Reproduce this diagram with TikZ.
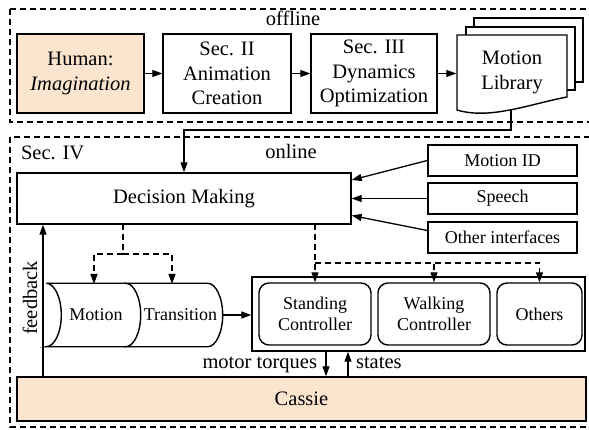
\documentclass[tikz,border=0pt]{standalone}
\usepackage{fontspec}
\setmainfont{Liberation Serif}
\usetikzlibrary{arrows.meta,calc}
\definecolor{peach}{RGB}{251,229,207}
\begin{document}
\begin{tikzpicture}[x=1pt,y=-1pt,line width=1.4pt,
  font=\fontsize{20.5}{24.5}\selectfont,
  box/.style={draw,line width=1.4pt,inner sep=0pt,align=center},
  small/.style={font=\fontsize{18}{21}\selectfont},
  ctrl/.style={box,small,rounded corners=10pt,minimum height=62pt},
  arr/.style={-{Triangle[length=10pt,width=7pt]},line width=1.3pt},
  dsh/.style={line width=1.3pt,dash pattern=on 6pt off 4pt},
  grp/.style={line width=1.3pt,dash pattern=on 6pt off 4pt}]
\useasboundingbox (0,0) rectangle (589,430);
\begin{scope}
\clip (0,0) rectangle (589,430);
\draw[grp] (10,9) rectangle (600,122);
\draw[grp] (10,137) rectangle (600,427);
\end{scope}
% offline
\node[anchor=base] (offl) at (293,26) {offline};
\node[box,fill=peach,minimum width=127pt,minimum height=79pt] (hum) at (80.5,73.5) {Human:\\\textit{Imagination}};
\node[box,minimum width=128pt,minimum height=79pt] (s2) at (227,73.5) {Sec. II\\Animation\\Creation};
\node[box,minimum width=126pt,minimum height=79pt] (s3) at (374,73.5) {Sec. III\\Dynamics\\Optimization};
\draw[fill=white] (474,18) rectangle (583,82);
\draw[fill=white] (466,27) rectangle (575,90);
\draw[fill=white] (457,35) -- (567,35) -- (567,97) .. controls (530,104) and (490,120) .. (457,110) -- cycle;
\node[inner sep=0pt,minimum width=110pt,minimum height=75pt,align=center] (lib) at (512,72.5) {Motion\\Library};
\coordinate (libout) at (511,110);
\coordinate (libturn) at (511,130);
\draw[arr] (hum) -- (s2);
\draw[arr] (s2) -- (s3);
\draw[arr] (s3) -- (lib.west |- s3.east);
% online
\node[anchor=base west] (sec4) at (17,160) {Sec. IV};
\node[anchor=base] (onl) at (291,159) {online};
\node[box,minimum width=334pt,minimum height=51pt] (dm) at (184,198.5) {Decision Making};
\draw[arr] (libout) -- (libturn) -| (dm.north);
\node[box,small,minimum width=149pt,minimum height=31pt] (mid) at (502.5,160.5) {Motion ID};
\node[box,small,minimum width=149pt,minimum height=31pt] (sp) at (502.5,198.5) {Speech};
\node[box,small,minimum width=149pt,minimum height=31pt] (oth) at (502.5,237.5) {Other interfaces};
\draw[arr] (mid.west) -- ($(dm.east)+(0,-18.5)$);
\draw[arr] (sp.west) -- (dm.east);
\draw[arr] ($(oth.west)+(0,-7)$) -- ($(dm.east)+(0,17)$);
% cylinders
\node[inner sep=0pt,minimum width=78pt,minimum height=62pt] (mb) at (86,315) {};
\node[inner sep=0pt,minimum width=82pt,minimum height=62pt] (tb) at (166,315) {};
\draw (mb.north west) -- (mb.north east)
  .. controls +(8.3,0) and +(0,-17.1) .. ($(mb.east)+(15,0)$)
  .. controls +(0,17.1) and +(8.3,0) .. (mb.south east)
  -- (mb.south west)
  .. controls +(8.3,0) and +(0,17.1) .. ($(mb.west)+(15,0)$)
  .. controls +(0,-17.1) and +(8.3,0) .. (mb.north west);
\draw (tb.north west) -- (tb.north east)
  .. controls +(8.3,0) and +(0,-17.1) .. ($(tb.east)+(15,0)$)
  .. controls +(0,17.1) and +(8.3,0) .. (tb.south east)
  -- (tb.south west);
\node[small] (motl) at (96,315) {Motion};
\node[small] (tral) at (180.5,315) {Transition};
% controllers
\node[draw,line width=1.4pt,minimum width=333pt,minimum height=74pt] (cont) at (418.5,314) {};
\node[ctrl,minimum width=112pt] (stand) at (315,314) {Standing\\Controller};
\node[ctrl,minimum width=112pt] (walk) at (434,314) {Walking\\Controller};
\node[ctrl,minimum width=85pt] (oths) at (539.5,314) {Others};
\draw[arr] ($(tb.east)+(15,0)$) -- (cont.west |- tb.east);
% dashed decisions
\coordinate (a1) at (123,224);
\coordinate (a2) at (123,254);
\coordinate (mtop) at (94,284);
\coordinate (ttop) at (172,284);
\draw[dsh] (a1) -- (a2);
\draw[dsh,arr] (a2) -| (mtop);
\draw[dsh,arr] (a2) -| (ttop);
\coordinate (b1) at (315,224);
\coordinate (b2) at (315,263);
\draw[dsh,arr] (b1) -- (stand.north);
\draw[dsh,arr] (b2) -| (walk.north);
\draw[dsh,arr] (b2) -| (oths.north);
% Cassie
\node[box,fill=peach,minimum width=569pt,minimum height=44pt] (cas) at (301.5,399) {Cassie};
\coordinate (fb) at (43,377);
\draw[arr] (fb) -- (fb |- dm.south);
\node[rotate=90] (fbl) at (30,298) {feedback};
\coordinate (mt) at (326,351);
\draw[arr] (mt) -- (mt |- cas.north);
\node[anchor=base east] (mtl) at (321,368) {motor torques};
\coordinate (st) at (348,377);
\draw[arr] (st) -- (st |- cont.south);
\node[anchor=base west] (stl) at (352,368) {states};
\end{tikzpicture}
\end{document}
